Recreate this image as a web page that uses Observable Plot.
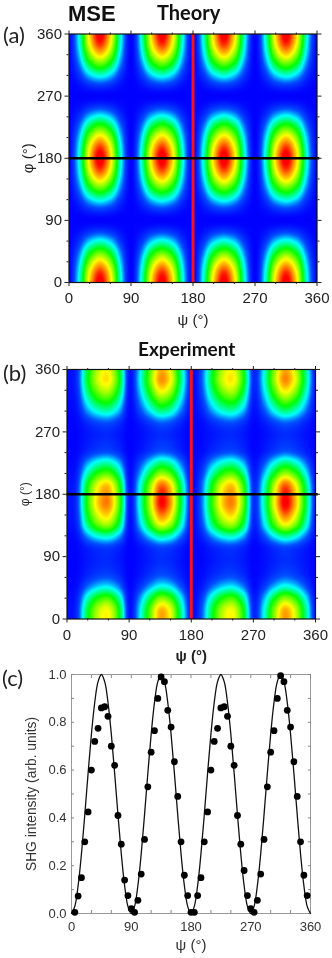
<!DOCTYPE html>
<html>
<head>
<meta charset="utf-8">
<script src="https://cdn.jsdelivr.net/npm/d3@7"></script>
<script src="https://cdn.jsdelivr.net/npm/@observablehq/plot@0.6"></script>
<style>
html,body{margin:0;padding:0;background:#fff;}
#page{position:relative;width:332px;height:958px;overflow:hidden;background:#fff;}
#page svg{position:absolute;left:0;background:transparent;overflow:visible;filter:blur(0.3px);}
.t{position:absolute;white-space:nowrap;line-height:1;color:#222;filter:blur(0.25px);}
</style>
</head>
<body>
<div id="page"></div>
<script>
// Grid positions of the map samples (degrees)
const gridAngles = [0,15,30,45,60,75,90,105,120,135,150,165,180,195,210,225,240,255,270,285,300,315,330,345,360];

// Theory map: relative intensity read along psi and along phi
const theoryPsi = [0,.25,.75,1,.75,.25,0,.25,.75,1,.75,.25,0,.25,.75,1,.75,.25,0,.25,.75,1,.75,.25,0];
const theoryPhi = [1,.93,.75,.5,.25,.07,0,.07,.25,.5,.75,.93,1,.93,.75,.5,.25,.07,0,.07,.25,.5,.75,.93,1];

// Experiment map: relative intensity read along psi and along phi
const experimentPsi = [.02,.08,.47,.76,.84,.52,.03,.24,.62,.96,.82,.38,.03,.12,.46,.75,.84,.53,.06,.27,.68,.98,.80,.40,.03];
const experimentPhi = [.84,.80,.58,.28,.12,.07,.06,.10,.33,.68,.88,1,.98,.88,.60,.34,.12,.07,.06,.13,.33,.54,.74,.86,.82];

// Colour ramp of both maps
const rampLevels = [0,.1,.22,.42,.70,.85,.97,1];
const rampColors = ["#0000ff","#0050ff","#00ffff","#00ff00","#ffff00","#ff8000","#ff0000","#ff0000"];

// Panel (c): measured points
const measuredPsi = [5,10,15,20,25,30,35,40,45,50,55,60,65,70,75,80,85,90,95,100,105,110,115,120,125,130,135,140,145,150,155,160,165,170,175,180,185,190,195,200,205,210,215,220,225,230,235,240,245,250,255,260,265,270,275,280,285,290,295,300,305,310,315,320,325,330,335,340,345,350,355];
const measuredShg = [.005,.073,.15,.30,.425,.60,.72,.775,.86,.865,.825,.70,.62,.41,.29,.14,.075,.02,.005,.055,.165,.31,.53,.675,.765,.90,.99,.97,.85,.78,.635,.49,.30,.16,.075,.005,.005,.075,.15,.30,.425,.60,.72,.775,.86,.865,.825,.70,.62,.41,.29,.18,.075,.02,.005,.055,.165,.31,.53,.675,.765,.90,.995,.97,.85,.78,.635,.49,.30,.16,.075];

// Panel (c): model curve
const curvePsi = [0,5,10,15,20,25,30,35,40,45,50,55,60,65,70,75,80,85,90,95,100,105,110,115,120,125,130,135,140,145,150,155,160,165,170,175,180,185,190,195,200,205,210,215,220,225,230,235,240,245,250,255,260,265,270,275,280,285,290,295,300,305,310,315,320,325,330,335,340,345,350,355,360];
const curveShg = [0,.03,.117,.25,.413,.587,.75,.883,.97,1,.97,.883,.75,.587,.413,.25,.117,.03,0,.03,.117,.25,.413,.587,.75,.883,.97,1,.97,.883,.75,.587,.413,.25,.117,.03,0,.03,.117,.25,.413,.587,.75,.883,.97,1,.97,.883,.75,.587,.413,.25,.117,.03,0,.03,.117,.25,.413,.587,.75,.883,.97,1,.97,.883,.75,.587,.413,.25,.117,.03,0];

// Axis ticks
const majorAngles = [0,90,180,270,360];
const minorAngles = [30,60,120,150,210,240,300,330];
const shgMajor = [0,.2,.4,.6,.8,1];
const shgMinor = [.1,.3,.5,.7,.9];

const page = document.getElementById("page");

// Smooth the sample table across the raster (Catmull-Rom through the samples)
function smoothGrid(index, w, h, X, Y, V) {
  const n = gridAngles.length;
  const M = Array.from({length:n}, () => new Float64Array(n));
  for (const i of index) {
    M[Math.round(Y[i]/h*(n-1))][Math.round(X[i]/w*(n-1))] = V[i];
  }
  const cr = (a,b,c,d,t) => 0.5*((2*b)+(c-a)*t+(2*a-5*b+4*c-d)*t*t+(3*b-a-3*c+d)*t*t*t);
  const at = (r,c) => M[Math.max(0,Math.min(n-1,r))][Math.max(0,Math.min(n-1,c))];
  const out = new Float64Array(w*h);
  for (let j=0;j<h;j++) {
    const v=(j+.5)/h*(n-1), r=Math.floor(v), tr=v-r;
    for (let i=0;i<w;i++) {
      const u=(i+.5)/w*(n-1), c=Math.floor(u), tc=u-c;
      const row = k => cr(at(r+k,c-1),at(r+k,c),at(r+k,c+1),at(r+k,c+2),tc);
      out[i+j*w] = Math.max(0,Math.min(1,cr(row(-1),row(0),row(1),row(2),tr)));
    }
  }
  return out;
}

function mapPanel({top, height, left, right, plotTop, plotBottom, psiProfile, phiProfile, phiSize, phiX, psiDy, psiWeight}) {
  const table = [];
  gridAngles.forEach((phi,r) => gridAngles.forEach((psi,c) => table.push({psi,phi,value:psiProfile[c]*phiProfile[r]})));
  const plot = Plot.plot({
    width:332, height,
    marginLeft:left, marginRight:332-right, marginTop:plotTop, marginBottom:height-plotBottom,
    x:{domain:[0,360]}, y:{domain:[0,360]},
    color:{type:"linear",domain:rampLevels,range:rampColors,clamp:true},
    style:{fontFamily:"'Liberation Sans',Arial,sans-serif",color:"#222"},
    marks:[
      Plot.raster(table,{x:"psi",y:"phi",fill:"value",x1:0,x2:360,y1:0,y2:360,pixelSize:1,interpolate:smoothGrid}),
      Plot.ruleX([180],{stroke:"#f5141e",strokeWidth:3}),
      Plot.ruleY([180],{x1:0,x2:364,stroke:"#000",strokeWidth:2.6}),
      Plot.frame({stroke:"#111",strokeWidth:1.2}),
      Plot.axisX({ticks:majorAngles,tickSize:4,tickPadding:6,fontSize:15,label:null,tickFormat:d=>d,stroke:"#222"}),
      Plot.axisX({ticks:minorAngles,tickSize:2,label:null,tickFormat:()=>"",stroke:"#222"}),
      Plot.axisX({anchor:"top",ticks:majorAngles,tickSize:4,label:null,tickFormat:()=>"",stroke:"#222"}),
      Plot.axisX({anchor:"top",ticks:minorAngles,tickSize:2,label:null,tickFormat:()=>"",stroke:"#222"}),
      Plot.axisY({ticks:majorAngles,tickSize:4,tickPadding:3,fontSize:15,label:null,tickFormat:d=>d,stroke:"#222"}),
      Plot.axisY({ticks:minorAngles,tickSize:2,label:null,tickFormat:()=>"",stroke:"#222"}),
      Plot.axisY({anchor:"right",ticks:majorAngles,tickSize:4,label:null,tickFormat:()=>"",stroke:"#222"}),
      Plot.axisY({anchor:"right",ticks:minorAngles,tickSize:2,label:null,tickFormat:()=>"",stroke:"#222"}),
      Plot.text(["φ (°)"],{frameAnchor:"left",textAnchor:"middle",dx:phiX,rotate:-90,fontSize:phiSize,fill:"#222"}),
      Plot.text(["ψ (°)"],{frameAnchor:"bottom",dy:psiDy,fontSize:15,fontWeight:psiWeight,fill:"#222"})
    ]
  });
  plot.style.top = top+"px";
  page.appendChild(plot);
}

mapPanel({top:0,height:328,left:68.5,right:316.5,plotTop:33.5,plotBottom:282,psiProfile:theoryPsi,phiProfile:theoryPhi,phiSize:15,phiX:-41,psiDy:42,psiWeight:"normal"});
mapPanel({top:330,height:332,left:66.5,right:315,plotTop:39,plotBottom:288.5,psiProfile:experimentPsi,phiProfile:experimentPhi,phiSize:12,phiX:-42,psiDy:42,psiWeight:"bold"});

const shgPlot = Plot.plot({
  width:332, height:308,
  marginLeft:71, marginRight:22, marginTop:24, marginBottom:45,
  x:{domain:[0,360]}, y:{domain:[0,1]},
  style:{fontFamily:"'Liberation Sans',Arial,sans-serif",color:"#333"},
  marks:[
    Plot.frame({stroke:"#999",strokeWidth:1}),
    Plot.axisX({ticks:majorAngles,tickSize:0,tickPadding:8,fontSize:13,label:null,tickFormat:d=>d}),
    Plot.axisX({ticks:majorAngles.concat(minorAngles),tickSize:-3,label:null,tickFormat:()=>"",stroke:"#888"}),
    Plot.axisX({anchor:"top",ticks:majorAngles.concat(minorAngles),tickSize:-3,label:null,tickFormat:()=>"",stroke:"#888"}),
    Plot.axisY({ticks:shgMajor,tickSize:0,tickPadding:5,fontSize:13,label:null,tickFormat:d3.format(".1f")}),
    Plot.axisY({ticks:shgMajor.concat(shgMinor),tickSize:-3,label:null,tickFormat:()=>"",stroke:"#888"}),
    Plot.axisY({anchor:"right",ticks:shgMajor.concat(shgMinor),tickSize:-3,label:null,tickFormat:()=>"",stroke:"#888"}),
    Plot.line(curvePsi.map((x,i)=>({x,y:curveShg[i]})),{x:"x",y:"y",stroke:"#111",strokeWidth:1.3,curve:"catmull-rom"}),
    Plot.dot(measuredPsi.map((x,i)=>({x,y:measuredShg[i]})),{x:"x",y:"y",r:3.4,fill:"#000",stroke:"none"}),
    Plot.text(["SHG intensity (arb. units)"],{frameAnchor:"left",textAnchor:"middle",dx:-40,rotate:-90,fontSize:13.8,fill:"#333"}),
    Plot.text(["ψ (°)"],{frameAnchor:"bottom",dy:36,fontSize:15,fill:"#333"})
  ]
});
shgPlot.style.top = "650px";
page.appendChild(shgPlot);

function label(text,x,y,css){
  const d=document.createElement("div");
  d.className="t";d.textContent=text;d.style.cssText=css;d.style.left=x+"px";d.style.top=y+"px";
  page.appendChild(d);
}
const calibri="font-family:Lato,'Open Sans',sans-serif;";
label("MSE",68,1,"font:bold 22px 'Liberation Sans',Arial,sans-serif;color:#111;");
label("Theory",157,2,calibri+"font-weight:bold;font-size:20px;color:#111;");
label("Experiment",138,339,calibri+"font-weight:bold;font-size:19px;color:#111;");
label("(a)",3,24,calibri+"font-size:22px;color:#222;");
label("(b)",3,362,calibri+"font-size:22px;color:#222;");
label("(c)",2,667,calibri+"font-size:22px;color:#222;");
</script>
</body>
</html>
